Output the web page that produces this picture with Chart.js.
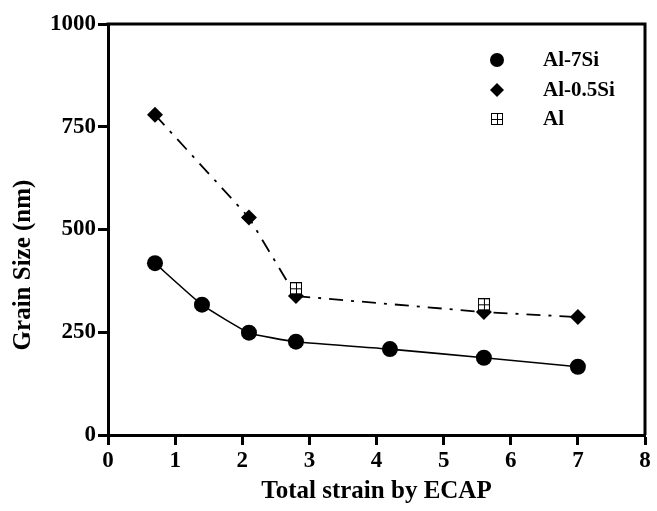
<!DOCTYPE html>
<html>
<head>
<meta charset="utf-8">
<title>Grain size vs strain</title>
<script src="https://cdn.jsdelivr.net/npm/chart.js@4.4.1/dist/chart.umd.min.js"></script>
<style>
    html, body { margin: 0; padding: 0; background: #fff; }
    canvas { display: block; }
</style>
</head>
<body>
<canvas id="grainChart" width="657" height="511"></canvas>
<script>
// data
const strainAl7Si = [0.7, 1.4, 2.1, 2.8, 4.2, 5.6, 7.0];
const grainAl7Si = [418, 317, 249, 227, 209, 188, 166];

const strainAl05Si = [0.7, 2.1, 2.8, 5.6, 7.0];
const grainAl05Si = [779, 529, 338, 299, 287];

const strainAl = [2.8, 5.6];
const grainAl = [357, 318];

const seriesNames = ["Al-7Si", "Al-0.5Si", "Al"];
const xTicks = [0, 1, 2, 3, 4, 5, 6, 7, 8];
const yTicks = [0, 250, 500, 750, 1000];

const FONT = "'Liberation Serif', 'Times New Roman', serif";

function toPoints(xs, ys) {
    return xs.map((x, i) => ({ x: x, y: ys[i] }));
}

// open square with a cross inside, used for the "Al" marker
function makeGridSquare() {
    const c = document.createElement("canvas");
    c.width = 12;
    c.height = 12;
    const g = c.getContext("2d");
    g.fillStyle = "#fff";
    g.fillRect(0, 0, 12, 12);
    g.strokeStyle = "#000";
    g.lineWidth = 1;
    g.strokeRect(0.5, 0.5, 11, 11);
    g.beginPath();
    g.moveTo(6.5, 0.5);
    g.lineTo(6.5, 11.5);
    g.moveTo(0.5, 6.5);
    g.lineTo(11.5, 6.5);
    g.stroke();
    return c;
}
const gridSquare = makeGridSquare();

// box frame, y title and legend drawn on top of the chart
const framePlugin = {
    id: "frame",
    afterDraw(chart) {
        const ctx = chart.ctx;
        const a = chart.chartArea;
        ctx.save();
        ctx.strokeStyle = "#000";
        ctx.lineWidth = 3;
        ctx.beginPath();
        ctx.moveTo(a.left - 1.5, a.top);
        ctx.lineTo(a.right, a.top);
        ctx.lineTo(a.right, a.bottom);
        ctx.stroke();

        // y axis title
        ctx.fillStyle = "#000";
        ctx.font = "bold 25px " + FONT;
        ctx.textAlign = "center";
        ctx.textBaseline = "middle";
        ctx.translate(24, 265);
        ctx.rotate(-Math.PI / 2);
        ctx.fillText("Grain Size (nm)", 0, 0);
        ctx.restore();

        // legend
        ctx.save();
        ctx.font = "bold 21px " + FONT;
        ctx.textAlign = "left";
        ctx.textBaseline = "middle";
        const rows = [60, 90, 119];
        chart.data.datasets.forEach((ds, i) => {
            const y = rows[i];
            const opts = {
                pointStyle: ds.pointStyle,
                radius: ds.legendRadius,
                rotation: 0,
                borderWidth: 0
            };
            ctx.fillStyle = "#000";
            ctx.strokeStyle = "#000";
            if (Chart.helpers && Chart.helpers.drawPoint) {
                Chart.helpers.drawPoint(ctx, opts, 497, y);
            }
            ctx.fillStyle = "#000";
            ctx.fillText(ds.label, 543, y + 1);
        });
        ctx.restore();
    }
};

const ctx = document.getElementById("grainChart").getContext("2d");
const grainChart = new Chart(ctx, {
    type: "scatter",
    data: {
        datasets: [{
                label: seriesNames[0],
                data: toPoints(strainAl7Si, grainAl7Si),
                showLine: true,
                tension: 0.15,
                borderColor: "#000",
                borderWidth: 1.6,
                backgroundColor: "#000",
                pointStyle: "circle",
                pointRadius: 8,
                pointBorderWidth: 0,
                legendRadius: 7,
                order: 2,
            },
            {
                label: seriesNames[1],
                data: toPoints(strainAl05Si, grainAl05Si),
                showLine: true,
                tension: 0,
                borderColor: "#000",
                borderWidth: 1.8,
                borderDash: [14, 8, 3, 8],
                backgroundColor: "#000",
                pointStyle: "rectRot",
                pointRadius: 8,
                pointBorderWidth: 0,
                legendRadius: 7,
                order: 1,
            },
            {
                label: seriesNames[2],
                data: toPoints(strainAl, grainAl),
                showLine: false,
                borderColor: "#000",
                backgroundColor: "#fff",
                pointStyle: gridSquare,
                pointRadius: 6,
                legendRadius: 6,
                order: 0,
            },
        ],
    },
    options: {
        responsive: false,
        devicePixelRatio: 1,
        animation: false,
        layout: {
            padding: { left: 0, right: 12, top: 24, bottom: 0 },
        },
        plugins: {
            legend: { display: false },
            tooltip: { enabled: false },
        },
        scales: {
            x: {
                type: "linear",
                min: xTicks[0],
                max: xTicks[xTicks.length - 1],
                afterFit: (scale) => { scale.height = 76; },
                afterBuildTicks: (scale) => {
                    scale.ticks = xTicks.map((v) => ({ value: v }));
                },
                border: { display: true, color: "#000", width: 3 },
                grid: {
                    drawOnChartArea: false,
                    drawTicks: true,
                    tickLength: 10,
                    tickWidth: 3,
                    tickColor: "#000",
                },
                ticks: {
                    color: "#000",
                    padding: 2,
                    maxRotation: 0,
                    callback: (v) => String(v),
                    font: { family: FONT, size: 23, weight: "bold" },
                },
                title: {
                    display: true,
                    text: "Total strain by ECAP",
                    color: "#000",
                    padding: { top: 0, bottom: 4 },
                    font: { family: FONT, size: 25, weight: "bold" },
                },
            },
            y: {
                type: "linear",
                min: yTicks[0],
                max: yTicks[yTicks.length - 1],
                afterFit: (scale) => { scale.width = 108; },
                afterBuildTicks: (scale) => {
                    scale.ticks = yTicks.map((v) => ({ value: v }));
                },
                border: { display: true, color: "#000", width: 3 },
                grid: {
                    drawOnChartArea: false,
                    drawTicks: true,
                    tickLength: 10,
                    tickWidth: 3,
                    tickColor: "#000",
                },
                ticks: {
                    color: "#000",
                    padding: 2,
                    callback: (v) => String(v),
                    font: { family: FONT, size: 23, weight: "bold" },
                },
            },
        },
    },
    plugins: [framePlugin],
});
</script>
</body>
</html>
